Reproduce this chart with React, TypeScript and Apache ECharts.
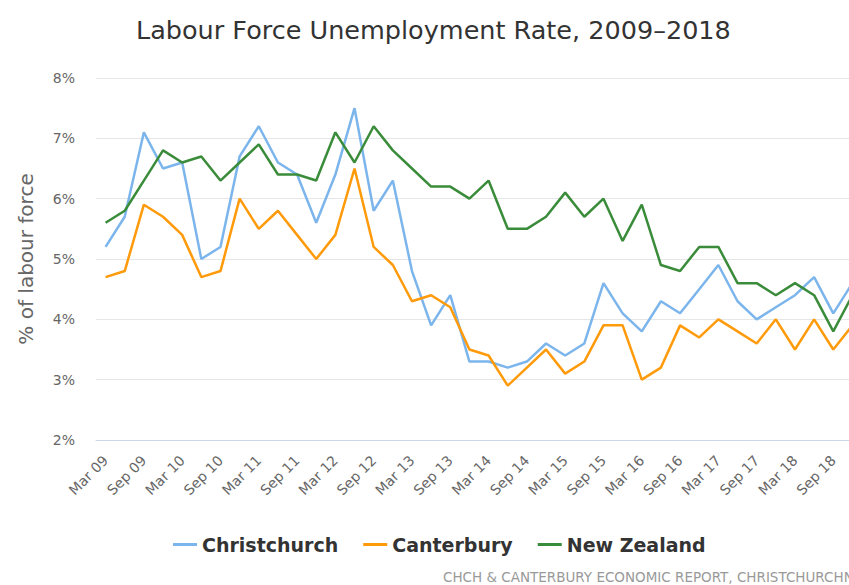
import React, { useEffect, useRef } from "react";
import * as echarts from "echarts";

const categories = [
  "Mar 09", "Jun 09", "Sep 09", "Dec 09",
  "Mar 10", "Jun 10", "Sep 10", "Dec 10",
  "Mar 11", "Jun 11", "Sep 11", "Dec 11",
  "Mar 12", "Jun 12", "Sep 12", "Dec 12",
  "Mar 13", "Jun 13", "Sep 13", "Dec 13",
  "Mar 14", "Jun 14", "Sep 14", "Dec 14",
  "Mar 15", "Jun 15", "Sep 15", "Dec 15",
  "Mar 16", "Jun 16", "Sep 16", "Dec 16",
  "Mar 17", "Jun 17", "Sep 17", "Dec 17",
  "Mar 18", "Jun 18", "Sep 18", "Dec 18",
];

const christchurch = [
  5.2, 5.7, 7.1, 6.5, 6.6, 5.0, 5.2, 6.7, 7.2, 6.6,
  6.4, 5.6, 6.4, 7.5, 5.8, 6.3, 4.8, 3.9, 4.4, 3.3,
  3.3, 3.2, 3.3, 3.6, 3.4, 3.6, 4.6, 4.1, 3.8, 4.3,
  4.1, 4.5, 4.9, 4.3, 4.0, 4.2, 4.4, 4.7, 4.1, 4.6,
];

const canterbury = [
  4.7, 4.8, 5.9, 5.7, 5.4, 4.7, 4.8, 6.0, 5.5, 5.8,
  5.4, 5.0, 5.4, 6.5, 5.2, 4.9, 4.3, 4.4, 4.2, 3.5,
  3.4, 2.9, 3.2, 3.5, 3.1, 3.3, 3.9, 3.9, 3.0, 3.2,
  3.9, 3.7, 4.0, 3.8, 3.6, 4.0, 3.5, 4.0, 3.5, 3.9,
];

const newZealand = [
  5.6, 5.8, 6.3, 6.8, 6.6, 6.7, 6.3, 6.6, 6.9, 6.4,
  6.4, 6.3, 7.1, 6.6, 7.2, 6.8, 6.5, 6.2, 6.2, 6.0,
  6.3, 5.5, 5.5, 5.7, 6.1, 5.7, 6.0, 5.3, 5.9, 4.9,
  4.8, 5.2, 5.2, 4.6, 4.6, 4.4, 4.6, 4.4, 3.8, 4.4,
];

const seriesNames = ["Christchurch", "Canterbury", "New Zealand"];
const seriesColors = ["#7cb5ec", "#ff9a0a", "#3a8c3a"];
const titleText = "Labour Force Unemployment Rate, 2009\u20132018";
const yAxisTitle = "% of labour force";
const footerText = "CHCH & CANTERBURY ECONOMIC REPORT, CHRISTCHURCHNZ.COM";

const FONT = "'DejaVu Sans', sans-serif";

export default function App() {
  const ref = useRef<HTMLDivElement>(null);

  useEffect(() => {
    if (!ref.current) return;
    const chart = echarts.init(ref.current, undefined, { renderer: "svg" });
    const dataSets = [christchurch, canterbury, newZealand];
    chart.setOption({
      animation: false,
      backgroundColor: "#ffffff",
      textStyle: { fontFamily: FONT },
      title: {
        text: titleText,
        left: 131,
        top: 12,
        textStyle: { fontFamily: FONT, fontSize: 25.5, fontWeight: "normal", color: "#333333" },
      },
      legend: {
        left: 168,
        top: 530,
        itemWidth: 24,
        itemHeight: 3,
        itemGap: 25,
        icon: "rect",
        data: seriesNames,
        textStyle: { fontFamily: FONT, fontSize: 19, fontWeight: "bold", color: "#333333" },
      },
      grid: { left: 96, right: 38, top: 78, height: 362, containLabel: false },
      xAxis: {
        type: "category",
        data: categories,
        boundaryGap: true,
        axisLine: { show: true, lineStyle: { color: "#ccd6eb", width: 1 } },
        axisTick: { show: false },
        axisLabel: {
          interval: 1,
          rotate: 45,
          margin: 18,
          color: "#666666",
          fontSize: 14,
          fontFamily: FONT,
        },
        splitLine: { show: false },
      },
      yAxis: {
        type: "value",
        min: 2,
        max: 8,
        interval: 1,
        name: yAxisTitle,
        nameLocation: "middle",
        nameRotate: 90,
        nameGap: 60,
        nameTextStyle: { fontFamily: FONT, fontSize: 20, color: "#666666" },
        axisLine: { show: false },
        axisTick: { show: false },
        axisLabel: {
          formatter: "{value}%",
          color: "#666666",
          fontSize: 14,
          margin: 21,
          fontFamily: FONT,
        },
        splitLine: { show: true, lineStyle: { color: "#e6e6e6", width: 1 } },
      },
      series: seriesNames.map((name, i) => ({
        name,
        type: "line",
        data: dataSets[i],
        showSymbol: false,
        symbol: "none",
        color: seriesColors[i],
        lineStyle: { width: 2.5, color: seriesColors[i] },
      })),
      graphic: [
        {
          type: "text",
          left: 443,
          top: 570,
          style: {
            text: footerText,
            fill: "#999999",
            font: `13.5px ${FONT}`,
          },
        },
      ],
    });
    return () => chart.dispose();
  }, []);

  return (
    <div style={{ position: "absolute", left: 0, top: 0, width: 849, height: 585, overflow: "hidden" }}>
      <div ref={ref} style={{ width: 900, height: 585 }} />
    </div>
  );
}
